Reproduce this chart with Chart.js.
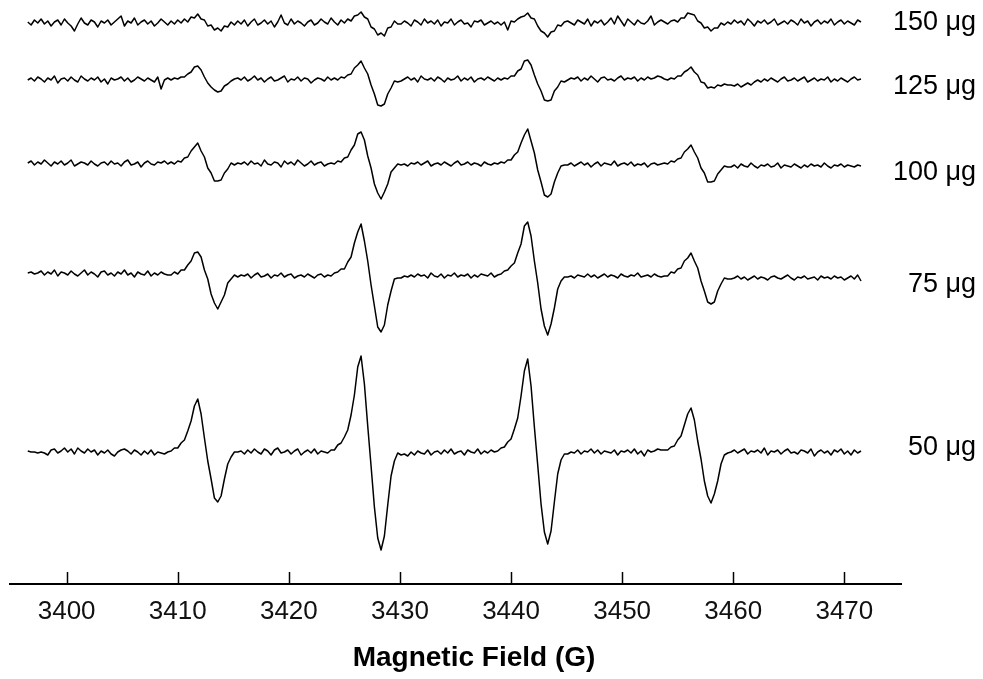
<!DOCTYPE html>
<html>
<head>
<meta charset="utf-8">
<title>EPR spectra</title>
<script src="https://cdn.jsdelivr.net/npm/chart.js@4.4.0/dist/chart.umd.min.js"></script>
<style>
  html, body { margin: 0; padding: 0; background: #fff; }
  #wrap { position: relative; width: 983px; height: 679px; }
</style>
</head>
<body>
<div id="wrap"><canvas id="eprChart"></canvas></div>
<script>
// ========== Data ==========
// field sweep (G): one sample every fieldStep, 251 samples per spectrum
const fieldStart = 3396.5;
const fieldStep = 0.3;

const tickValues = [3400, 3410, 3420, 3430, 3440, 3450, 3460, 3470];
const tickLabels = ['3400', '3410', '3420', '3430', '3440', '3450', '3460', '3470'];

const sampleNames = ['150 μg', '125 μg', '100 μg', '75 μg', '50 μg'];
// vertical stacking of the spectra (baseline level of each trace)
const traceOffsets = [561, 504, 420, 309, 132];

// signal, relative to its own baseline
const trace150 = [
  1,-2,3,0,4,-1,2,-3,1,3,-2,4,0,-3,-8,-1,5,0,-2,3,1,-4,2,0,3,-2,1,4,7,-3,2,0,5,-2,1,3,-1,2,-3,0,4,1,-2,
  2,-1,3,0,4,1,6,5,9,4,3,-3,-2,-7,-5,-8,-3,-4,1,-2,
  2,-1,3,-3,1,4,-2,0,3,-1,2,-4,1,8,0,-2,4,-1,2,0,-3,1,3,-2,0,4,1,-1,5,
  1,-2,3,0,4,2,7,8,11,6,4,-4,-6,-12,-10,-13,-5,-4,2,-1,
  -1,2,0,-3,3,1,-2,4,0,2,-1,3,-3,1,0,4,-2,1,3,-1,0,-4,2,1,3,-2,0,2,-1,1,
  -2,1,-7,2,1,4,6,7,10,5,4,-3,-8,-10,-14,-9,-8,-2,-3,1,
  2,0,-2,3,1,-1,4,-3,2,0,3,-2,1,5,-1,7,2,-3,4,1,-2,3,0,-1,2,7,-2,1,3,
  1,-1,2,3,1,5,5,10,9,8,2,0,-5,-4,-8,-5,-5,0,-2,1,
  -1,3,0,2,-2,4,1,-3,2,0,3,-1,1,4,-2,0,2,-1,3,1,-2,4,0,2,-3,1,3,-1,2,0,4,-2,1,3,-1,2,0,-2,3,1
];
const trace125 = [
  0,2,-1,3,1,-2,2,0,4,-3,1,2,-1,3,0,-2,4,1,-1,2,0,3,-2,1,-4,2,0,1,3,-1,2,-2,0,3,1,-1,2,0,-2,3,-9,0,2,
  0,2,1,3,3,6,8,13,14,10,3,-3,-7,-10,-12,-11,-6,-4,-1,1,
  2,0,3,-1,1,4,0,2,-2,1,3,-1,0,2,4,-2,1,0,3,-1,2,1,-3,0,2,1,-1,3,0,
  2,0,3,2,5,6,12,15,19,12,6,-5,-14,-25,-26,-24,-14,-8,-1,-2,
  -1,1,3,0,2,-2,4,1,0,2,-1,3,1,-2,2,0,1,4,-1,2,0,3,-2,1,2,0,3,1,-1,2,
  0,2,1,4,4,9,11,19,20,15,5,-4,-11,-20,-21,-20,-11,-7,-1,-2,
  0,2,1,3,-1,2,0,4,1,-2,2,3,0,1,-1,2,4,0,2,1,3,-1,2,0,3,1,2,4,3,
  1,0,2,1,4,4,8,10,13,8,5,-2,-3,-8,-7,-8,-5,-6,-4,-5,
  -5,-6,-4,-7,-5,-3,-5,-2,0,-2,1,-1,2,0,-2,1,3,-1,0,2,-1,1,3,-2,0,2,-1,1,0,3,-2,1,-1,2,0,-2,1,3,0,1
];
const trace100 = [
  1,3,-1,2,0,4,1,-2,2,0,3,-1,1,4,-2,0,2,1,-1,3,0,-2,1,2,-1,3,0,1,-2,2,4,-1,0,2,-3,1,3,0,-1,2,1,3,0,
  2,0,3,2,6,7,13,17,21,13,7,-4,-9,-17,-17,-16,-9,-5,1,-1,
  1,0,2,-1,3,0,1,-2,4,0,-1,2,1,-3,3,0,2,-1,4,1,-2,0,3,-1,1,2,-2,0,1,
  0,3,2,6,7,14,19,30,32,24,8,-4,-20,-29,-35,-28,-20,-8,-4,0,
  -1,0,-2,1,0,2,-1,1,3,-2,0,1,-1,2,0,-2,1,3,-1,0,2,-1,1,0,-2,2,0,-1,1,0,
  2,1,4,4,9,12,21,29,35,23,11,-6,-18,-31,-33,-30,-18,-9,-2,-1,
  -1,1,-2,0,2,-1,1,-3,0,2,-2,1,0,-1,3,-2,0,1,-1,2,-2,0,-1,1,-3,0,1,-1,0,
  1,0,3,2,5,6,12,15,19,12,6,-4,-9,-18,-18,-17,-10,-6,-2,-3,
  -3,-1,-4,0,-2,-3,1,-2,-4,-1,-2,0,-3,-2,1,-4,-1,-2,-3,0,-2,-4,-1,-3,0,-2,-1,-3,1,-2,-4,-1,-2,0,-3,-1,-2,-3,-1,-2
];
const trace75 = [
  2,3,1,2,4,0,3,1,5,-1,3,2,0,4,1,-1,2,5,0,3,1,-2,3,4,0,2,-1,3,1,5,0,2,-2,3,1,0,4,-1,2,0,3,1,0,
  0,3,1,5,5,10,14,22,23,18,5,-4,-19,-28,-34,-27,-20,-8,-4,0,
  -2,0,-1,1,-3,0,2,-2,-1,1,-3,0,-1,2,-2,0,1,-3,-1,0,-2,1,-1,-3,0,1,-2,0,-1,
  2,3,6,6,13,18,32,43,51,34,14,-10,-31,-52,-57,-50,-30,-16,-4,-3,
  -3,-1,-2,0,-2,1,-1,0,-3,2,-1,-2,1,-3,0,-1,2,-2,0,-1,1,-3,0,-2,1,0,-1,2,-2,0,
  1,4,5,9,12,22,31,49,53,39,14,-8,-34,-51,-60,-49,-33,-14,-6,-2,
  -2,-1,-3,0,-1,-2,1,-2,0,-3,-1,1,-2,0,-1,-3,1,-1,-2,0,-1,2,-2,-1,0,-2,1,-1,-2,
  -1,-1,3,2,6,7,14,17,22,14,7,-6,-16,-27,-29,-27,-16,-9,-3,-4,
  -4,-3,-1,-4,-2,-5,-3,-1,-4,-2,-3,-5,-2,-1,-3,-4,-2,0,-3,-5,-2,-3,-1,-4,-3,-2,-5,-1,-3,-2,-4,-1,-3,-2,-5,-3,-1,-4,0,-6
];
const trace50 = [
  1,0,0,-1,0,-1,-3,2,3,-1,1,4,0,3,-2,4,1,-1,3,0,2,-3,1,-1,2,-2,-4,0,2,3,1,-2,2,0,-3,1,-2,2,-3,0,-1,-2,0,
  1,4,4,9,12,21,31,46,53,38,14,-9,-27,-46,-50,-44,-27,-12,-5,0,
  0,1,-2,2,-1,3,0,-2,3,1,-3,2,4,-1,0,2,-2,1,3,-3,0,2,-1,3,-2,1,0,-1,2,
  2,7,9,15,22,37,57,85,96,68,26,-14,-55,-86,-98,-84,-53,-24,-9,-1,
  -3,-2,-4,0,-3,1,-1,-2,2,-3,0,1,-2,2,-1,3,-2,0,1,-3,2,0,-1,3,-2,1,-1,2,0,1,
  4,5,10,13,23,34,56,81,93,66,25,-13,-52,-80,-92,-79,-50,-22,-8,-2,
  -2,0,-1,2,-2,1,0,3,-1,2,-2,1,0,-1,2,-3,1,0,2,-1,3,-2,1,-4,2,0,1,3,2,
  2,2,5,6,12,16,27,38,44,32,11,-7,-29,-44,-51,-42,-29,-12,-3,-1,
  0,2,-1,1,3,-2,1,0,2,-1,4,-3,1,0,2,-2,1,3,-1,0,-2,2,1,-1,3,-4,0,2,-1,1,-3,2,0,3,-2,1,-3,2,-1,1
];
const traces = [trace150, trace125, trace100, trace75, trace50];

// ========== Layout ==========
const FONT = "'Liberation Sans', Arial, Helvetica, sans-serif";
const AXIS_Y = 584;            // pixel row of the field axis
const labelLevels = [561, 497, 411, 299, 136];  // where each sample name sits (y units)

traces.forEach((t, k) => {
  if (t.length !== 251) throw new Error(sampleNames[k] + ' has ' + t.length + ' samples');
});

// Build the {x, y} points Chart.js needs
const datasets = traces.map((t, k) => ({
  label: sampleNames[k],
  data: t.map((v, i) => ({ x: fieldStart + i * fieldStep, y: traceOffsets[k] + v })),
  borderColor: '#000',
  borderWidth: 1.5,
  borderJoinStyle: 'round',
  pointRadius: 0,
  tension: 0,
  fill: false
}));

// tick marks point up into the plot, sample names on the right, bold axis title
const decorations = {
  id: 'decorations',
  afterDraw(chart) {
    const { ctx, chartArea } = chart;
    const xs = chart.scales.x;
    const ys = chart.scales.y;
    ctx.save();
    ctx.strokeStyle = '#000';
    ctx.lineWidth = 1.5;
    tickValues.forEach(v => {
      const px = Math.round(xs.getPixelForValue(v)) + 0.5;
      ctx.beginPath();
      ctx.moveTo(px, chartArea.bottom - 12);
      ctx.lineTo(px, chartArea.bottom);
      ctx.stroke();
    });

    ctx.fillStyle = '#000';
    ctx.font = '27px ' + FONT;
    ctx.textAlign = 'right';
    ctx.textBaseline = 'middle';
    sampleNames.forEach((name, k) => {
      ctx.fillText(name, 976, ys.getPixelForValue(labelLevels[k]));
    });

    ctx.font = 'bold 28px ' + FONT;
    ctx.textAlign = 'center';
    ctx.textBaseline = 'alphabetic';
    ctx.fillText('Magnetic Field (G)', 474, 666);
    ctx.restore();
  }
};

new Chart(document.getElementById('eprChart'), {
  type: 'line',
  data: { datasets },
  options: {
    responsive: true,
    maintainAspectRatio: false,
    animation: false,
    devicePixelRatio: 1,
    layout: { padding: { left: 10, right: 82, top: 0, bottom: 0 } },
    plugins: {
      legend: { display: false },
      tooltip: { enabled: false }
    },
    scales: {
      x: {
        type: 'linear',
        min: 3394.9,
        max: 3475.1,
        border: { display: true, color: '#000', width: 2 },
        grid: { display: true, drawOnChartArea: false, drawTicks: false },
        afterBuildTicks: (scale) => {
          scale.ticks = tickValues.map(v => ({ value: v }));
        },
        afterFit: (scale) => {
          scale.height = 679 - AXIS_Y;
        },
        ticks: {
          autoSkip: false,
          maxRotation: 0,
          padding: 12,
          color: '#111',
          font: { family: FONT, size: 26 },
          callback: function (value) {
            const k = tickValues.indexOf(value);
            return k >= 0 ? tickLabels[k] : '';
          }
        }
      },
      y: {
        display: false,
        min: 0,
        max: AXIS_Y
      }
    }
  },
  plugins: [decorations]
});
</script>
</body>
</html>
